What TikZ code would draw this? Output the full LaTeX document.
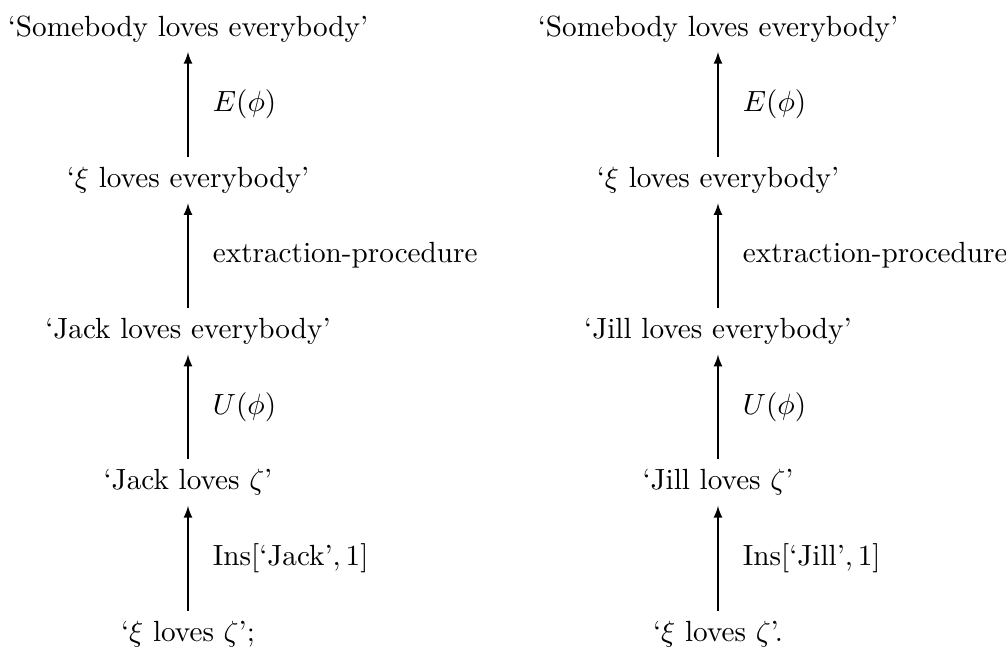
\documentclass[tikz,border=0pt]{standalone}
\usepackage{amsmath}
\usepackage{tikz}
\usetikzlibrary{positioning}

\begin{document}
\begin{tikzpicture}[
    x=0.3425pt, y=0.3425pt,
    sentence/.style = {
        anchor=base,
        text height=6.94pt,
        text depth=1.94pt,
        inner sep=3.33pt
    },
    arrow/.style = {->, >=latex, line width=0.4pt},
    rulelabel/.style = {right=5pt, midway}
]

\def\hgap{530}
\def\vgap{151.3}

\useasboundingbox (-188,36) rectangle (818,-610);

% left derivation (Jack)
\node[sentence] (someL) at (0,0)        {`Somebody loves everybody'};
\node[sentence] (xiL)   at (0,-\vgap)   {`$\xi$ loves everybody'};
\node[sentence] (jackE) at (0,-2*\vgap) {`Jack loves everybody'};
\node[sentence] (jackZ) at (0,-3*\vgap) {`Jack loves $\zeta$'};
\node[sentence] (baseL) at (0,-4*\vgap) {`$\xi$ loves $\zeta$';};

% right derivation (Jill)
\node[sentence] (someR) at (\hgap,0)        {`Somebody loves everybody'};
\node[sentence] (xiR)   at (\hgap,-\vgap)   {`$\xi$ loves everybody'};
\node[sentence] (jillE) at (\hgap,-2*\vgap) {`Jill loves everybody'};
\node[sentence] (jillZ) at (\hgap,-3*\vgap) {`Jill loves $\zeta$'};
\node[sentence] (baseR) at (\hgap,-4*\vgap) {`$\xi$ loves $\zeta$'.};

\draw[arrow] (xiL.north)   -- node[rulelabel] {$E(\phi)$} (someL.south);
\draw[arrow] (jackE.north) -- node[rulelabel] {extraction-procedure} (xiL.south);
\draw[arrow] (jackZ.north) -- node[rulelabel] {$U(\phi)$} (jackE.south);
\draw[arrow] (baseL.north) -- node[rulelabel] {$\mathrm{Ins}[\text{`Jack'}, 1]$} (jackZ.south);

\draw[arrow] (xiR.north)   -- node[rulelabel] {$E(\phi)$} (someR.south);
\draw[arrow] (jillE.north) -- node[rulelabel] {extraction-procedure} (xiR.south);
\draw[arrow] (jillZ.north) -- node[rulelabel] {$U(\phi)$} (jillE.south);
\draw[arrow] (baseR.north) -- node[rulelabel] {$\mathrm{Ins}[\text{`Jill'}, 1]$} (jillZ.south);

\end{tikzpicture}
\end{document}
